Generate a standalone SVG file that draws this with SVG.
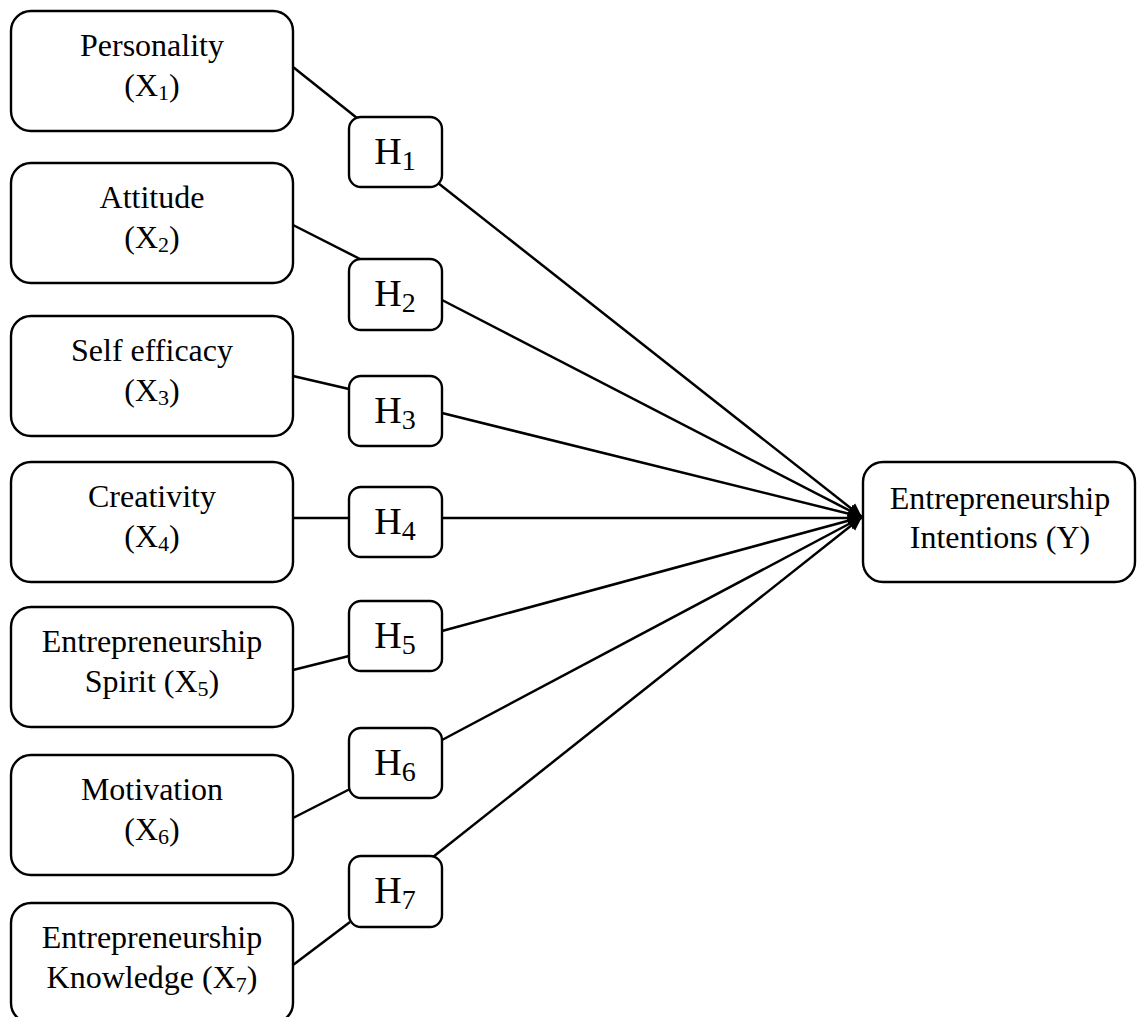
<svg xmlns="http://www.w3.org/2000/svg" width="1137" height="1017" viewBox="0 0 1137 1017">
<style>
.box{fill:#fff;stroke:#000;stroke-width:2.4}
.lbl{font-family:'Liberation Serif','Times New Roman',Tinos,'DejaVu Serif',serif;font-size:32px;fill:#000;text-anchor:middle}
.hl{font-family:'Liberation Serif','Times New Roman',Tinos,'DejaVu Serif',serif;font-size:38px;fill:#000;text-anchor:middle}
.sub{font-size:22px}
.hsub{font-size:28px}
.con{stroke:#000;stroke-width:2.5;fill:none}
.arr{stroke:#000;stroke-width:2.5;fill:none;marker-end:url(#ah)}
</style>
<defs>
<marker id="ah" markerUnits="userSpaceOnUse" markerWidth="16" markerHeight="14" refX="14" refY="7" orient="auto">
<path d="M0,0.5 L14,7 L0,13.5 Z" fill="#000"/>
</marker>
</defs>
<rect width="1137" height="1017" fill="#fff"/>
<g id="connectors">
<line class="con" x1="293" y1="67" x2="357" y2="118"/>
<line class="con" x1="293" y1="225" x2="360" y2="259"/>
<line class="con" x1="293" y1="376" x2="349" y2="389"/>
<line class="con" x1="293" y1="518" x2="349" y2="518"/>
<line class="con" x1="293" y1="670" x2="349" y2="656"/>
<line class="con" x1="293" y1="818" x2="350" y2="789"/>
<line class="con" x1="293" y1="965" x2="350" y2="922"/>
<line class="arr" x1="438" y1="183" x2="862" y2="517"/>
<line class="arr" x1="442" y1="300" x2="862" y2="517"/>
<line class="arr" x1="442" y1="413" x2="862" y2="517"/>
<line class="arr" x1="442" y1="518" x2="862" y2="518"/>
<line class="arr" x1="442" y1="631" x2="862" y2="517"/>
<line class="arr" x1="442" y1="740" x2="862" y2="517"/>
<line class="arr" x1="433" y1="857" x2="862" y2="517"/>
</g>
<g id="x1"><rect class="box" x="11" y="11" width="282" height="120" rx="20"/>
<text class="lbl" x="152" y="56">Personality</text>
<text class="lbl" x="152" y="96">(X<tspan class="sub" dy="4">1</tspan><tspan dy="-4">)</tspan></text></g>
<g id="x2"><rect class="box" x="11" y="163" width="282" height="120" rx="20"/>
<text class="lbl" x="152" y="208">Attitude</text>
<text class="lbl" x="152" y="248">(X<tspan class="sub" dy="4">2</tspan><tspan dy="-4">)</tspan></text></g>
<g id="x3"><rect class="box" x="11" y="316" width="282" height="120" rx="20"/>
<text class="lbl" x="152" y="361">Self efficacy</text>
<text class="lbl" x="152" y="401">(X<tspan class="sub" dy="4">3</tspan><tspan dy="-4">)</tspan></text></g>
<g id="x4"><rect class="box" x="11" y="462" width="282" height="120" rx="20"/>
<text class="lbl" x="152" y="507">Creativity</text>
<text class="lbl" x="152" y="547">(X<tspan class="sub" dy="4">4</tspan><tspan dy="-4">)</tspan></text></g>
<g id="x5"><rect class="box" x="11" y="607" width="282" height="120" rx="20"/>
<text class="lbl" x="152" y="652">Entrepreneurship</text>
<text class="lbl" x="152" y="692">Spirit (X<tspan class="sub" dy="4">5</tspan><tspan dy="-4">)</tspan></text></g>
<g id="x6"><rect class="box" x="11" y="755" width="282" height="120" rx="20"/>
<text class="lbl" x="152" y="800">Motivation</text>
<text class="lbl" x="152" y="840">(X<tspan class="sub" dy="4">6</tspan><tspan dy="-4">)</tspan></text></g>
<g id="x7"><rect class="box" x="11" y="903" width="282" height="120" rx="20"/>
<text class="lbl" x="152" y="948">Entrepreneurship</text>
<text class="lbl" x="152" y="988">Knowledge (X<tspan class="sub" dy="4">7</tspan><tspan dy="-4">)</tspan></text></g>
<g id="h1"><rect class="box" x="349" y="117" width="93" height="70" rx="12"/>
<text class="hl" x="395" y="164">H<tspan class="hsub" dy="6">1</tspan></text></g>
<g id="h2"><rect class="box" x="349" y="259" width="93" height="71" rx="12"/>
<text class="hl" x="395" y="306">H<tspan class="hsub" dy="6">2</tspan></text></g>
<g id="h3"><rect class="box" x="349" y="376" width="93" height="70" rx="12"/>
<text class="hl" x="395" y="423">H<tspan class="hsub" dy="6">3</tspan></text></g>
<g id="h4"><rect class="box" x="349" y="487" width="93" height="70" rx="12"/>
<text class="hl" x="395" y="534">H<tspan class="hsub" dy="6">4</tspan></text></g>
<g id="h5"><rect class="box" x="349" y="601" width="93" height="70" rx="12"/>
<text class="hl" x="395" y="648">H<tspan class="hsub" dy="6">5</tspan></text></g>
<g id="h6"><rect class="box" x="349" y="728" width="93" height="70" rx="12"/>
<text class="hl" x="395" y="775">H<tspan class="hsub" dy="6">6</tspan></text></g>
<g id="h7"><rect class="box" x="349" y="856" width="93" height="71" rx="12"/>
<text class="hl" x="395" y="903">H<tspan class="hsub" dy="6">7</tspan></text></g>
<g id="y"><rect class="box" x="863" y="462" width="272" height="120" rx="20"/>
<text class="lbl" x="1000" y="509">Entrepreneurship</text>
<text class="lbl" x="1000" y="548">Intentions (Y)</text></g>
</svg>
